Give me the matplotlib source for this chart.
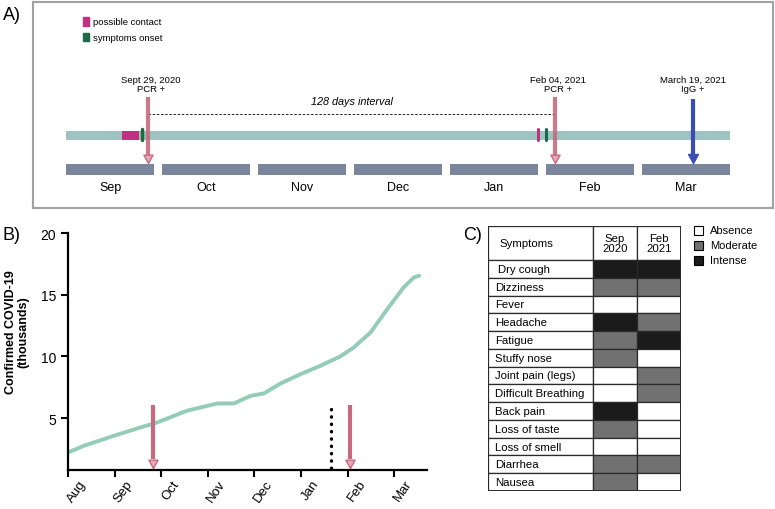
import numpy as np
import matplotlib
matplotlib.use('Agg')
import matplotlib.pyplot as plt
from matplotlib.patches import Rectangle
from matplotlib.path import Path

plt.rcParams['font.family'] = ['Liberation Sans', 'DejaVu Sans']

# --- data ---
timeline_months = ['Sep', 'Oct', 'Nov', 'Dec', 'Jan', 'Feb', 'Mar']
month_days = [30, 31, 30, 31, 31, 28, 31]
contact_1 = (('Sep', 20), ('Sep', 26))
onset_1 = ('Sep', 27)
contact_2 = ('Jan', 32)   # end of Jan
onset_2 = ('Feb', 1)
pcr_1 = ('Sep', 29)
pcr_2 = ('Feb', 4)
igg = ('Mar', 19)
interval_text = '128 days interval'

case_months = ['Aug', 'Sep', 'Oct', 'Nov', 'Dec', 'Jan', 'Feb', 'Mar']
case_x = [0.0, 0.34, 0.98, 1.55, 1.91, 2.55, 3.2, 3.56, 3.91, 4.2, 4.56,
          4.99, 5.41, 5.84, 6.13, 6.49, 6.85, 7.2, 7.42, 7.53]
case_k = [2.22, 2.76, 3.57, 4.24, 4.65, 5.6, 6.19, 6.19, 6.8, 7.0, 7.81,
          8.57, 9.24, 10.0, 10.73, 11.95, 13.84, 15.6, 16.4, 16.54]
pcr_x = [1.83, 6.05]
dotted_x = 5.64

symptoms = ['Dry cough', 'Dizziness', 'Fever', 'Headache', 'Fatigue', 'Stuffy nose',
            'Joint pain (legs)', 'Difficult Breathing', 'Back pain', 'Loss of taste',
            'Loss of smell', 'Diarrhea', 'Nausea']
# 0 absence, 1 moderate, 2 intense
sep_2020 = [2, 1, 0, 2, 1, 1, 0, 0, 2, 1, 0, 1, 1]
feb_2021 = [2, 1, 0, 1, 2, 0, 1, 1, 0, 0, 0, 1, 0]
levels = ['Absence', 'Moderate', 'Intense']
level_colors = ['white', '#717171', '#1b1b1b']

# --- colours ---
teal = '#9ec4c2'
slate = '#7b869d'
magenta = '#c2307f'
green = '#1e6a45'
pink = '#c76a80'
pink_light = '#e6a8b6'
blue = '#3a4db5'
line_green = '#93ccb7'

W, H = 775, 510
fig = plt.figure(figsize=(W / 100, H / 100), dpi=100)


def px_box(l, t, r, b):
    return [l / W, 1 - b / H, (r - l) / W, (b - t) / H]


def pos(d):
    m, day = d
    k = timeline_months.index(m)
    return k + (day - 1) / month_days[k] * 0.917


# marker whose tip sits on the data point (pointing down)
head = Path([(-0.55, 1), (0.55, 1), (0, 0), (-0.55, 1)],
            [Path.MOVETO, Path.LINETO, Path.LINETO, Path.CLOSEPOLY])

# ================= A) timeline =================
axA = fig.add_axes(px_box(33, 3, 773, 209))
axA.set_xlim(-0.344, 7.365)
axA.set_ylim(209, 3)
axA.set_xticks([])
axA.set_yticks([])
for s in axA.spines.values():
    s.set_color('#a2a2a2')
    s.set_linewidth(1.5)

end = len(timeline_months) - 1 + 0.917
axA.barh(136.5, end, left=0, height=9, color=teal)
axA.barh([170.5] * len(timeline_months), [0.917] * len(timeline_months),
         left=np.arange(len(timeline_months)), height=11, color=slate)
for k, m in enumerate(timeline_months):
    axA.text(k + 0.4585, 188, m, ha='center', va='center', fontsize=9)

c0, c1 = pos(contact_1[0]), pos(contact_1[1])
axA.barh(136.5, c1 - c0, left=c0, height=9, color=magenta)
axA.plot([pos(onset_1)] * 2, [130, 141], color=green, lw=2.5, solid_capstyle='round')
axA.plot([pos(contact_2)] * 2, [130, 141], color=magenta, lw=2.2, solid_capstyle='round')
axA.plot([pos(onset_2)] * 2, [130, 141], color=green, lw=2.2, solid_capstyle='round')

# interval
axA.plot([pos(pcr_1), pos(pcr_2)], [115, 115], color='black', lw=0.6, ls=(0, (3, 2)))
axA.text((pos(pcr_1) + pos(pcr_2)) / 2, 102, interval_text, ha='center', va='center',
         fontsize=7.8, style='italic')

for d, lab in [(pcr_1, 'Sept 29, 2020\nPCR +'), (pcr_2, 'Feb 04, 2021\nPCR +')]:
    x = pos(d)
    axA.plot([x, x], [98, 156], color=pink, lw=3, alpha=0.9, solid_capstyle='butt')
    axA.plot([x], [164], marker=head, ms=12, mfc=pink_light, mec=pink, mew=1)
    axA.text(x + 0.03, 94, lab, ha='center', va='bottom', fontsize=6.8, linespacing=1.0)

x = pos(igg)
axA.plot([x, x], [100, 155], color=blue, lw=3, solid_capstyle='butt')
axA.plot([x], [164], marker=head, ms=13, mfc=blue, mec=blue, mew=1)
axA.text(x, 94, 'March 19, 2021\nIgG +', ha='center', va='bottom', fontsize=6.8,
         linespacing=1.0)

# legend squares
axA.add_patch(Rectangle((0.068, 0.885), 0.008, 0.04, transform=axA.transAxes, color=magenta))
axA.add_patch(Rectangle((0.068, 0.81), 0.008, 0.04, transform=axA.transAxes, color=green))
axA.text(0.081, 0.905, 'possible contact', transform=axA.transAxes, va='center', fontsize=6.8)
axA.text(0.081, 0.83, 'symptoms onset', transform=axA.transAxes, va='center', fontsize=6.8)

fig.text(3 / W, 1 - 15 / H, 'A)', fontsize=13, va='center', ha='left')

# ================= B) cases =================
axB = fig.add_axes(px_box(68, 234, 427, 471))
axB.plot(case_x, case_k, color=line_green, lw=2.8, solid_capstyle='round')
for x in pcr_x:
    axB.plot([x, x], [6.05, 1.7], color=pink, lw=3, solid_capstyle='butt')
    axB.plot([x], [1.0], marker=head, ms=12, mfc=pink_light, mec=pink, mew=1)
axB.plot([dotted_x, dotted_x], [1.0, 6.0], color='black', lw=2.4,
         ls=(0, (0.1, 2.1)), dash_capstyle='round')
axB.set_xlim(0, 7.7)
axB.set_ylim(0.8, 20)
axB.set_xticks(range(len(case_months)))
axB.set_xticklabels([])
# rotated month labels sit to the right of their ticks (GraphPad style)
for k, m in enumerate(case_months):
    axB.annotate(m, xy=(k, 0), xycoords=('data', 'axes fraction'),
                 xytext=(11, -8), textcoords='offset points', rotation=55,
                 ha='right', va='center', rotation_mode='anchor', fontsize=9.5)
axB.set_yticks([5, 10, 15, 20])
axB.tick_params(axis='y', labelsize=10)
axB.tick_params(length=5, width=1.5, direction='out')
for s in ['top', 'right']:
    axB.spines[s].set_visible(False)
for s in ['left', 'bottom']:
    axB.spines[s].set_linewidth(1.6)
axB.set_ylabel('Confirmed COVID-19\n(thousands)', fontsize=9, fontweight='bold',
               va='center', linespacing=1.1)
axB.yaxis.set_label_coords(-0.142, 0.586)

fig.text(2 / W, 1 - 236 / H, 'B)', fontsize=13, va='center', ha='left')

# ================= C) symptom table =================
axC = fig.add_axes(px_box(488, 227, 681, 492))
axC.set_xlim(0, 193)
axC.set_ylim(265, 0)
axC.axis('off')
head_h = 34
row_h = (265 - head_h) / len(symptoms)
ec = '#2a2a2a'

axC.add_patch(Rectangle((0, 0), 105, head_h, fc='white', ec=ec, lw=0.9))
axC.add_patch(Rectangle((105, 0), 44, head_h, fc='white', ec=ec, lw=0.9))
axC.add_patch(Rectangle((149, 0), 44, head_h, fc='white', ec=ec, lw=0.9))
axC.text(11, head_h / 2, 'Symptoms', va='center', fontsize=8.2)
axC.text(127, head_h / 2, 'Sep\n2020', ha='center', va='center', fontsize=8.2, linespacing=1.0)
axC.text(171, head_h / 2, 'Feb\n2021', ha='center', va='center', fontsize=8.2, linespacing=1.0)

for i, name in enumerate(symptoms):
    y0 = head_h + i * row_h
    axC.add_patch(Rectangle((0, y0), 105, row_h, fc='white', ec=ec, lw=0.9))
    axC.add_patch(Rectangle((105, y0), 44, row_h, fc=level_colors[sep_2020[i]], ec=ec, lw=0.9))
    axC.add_patch(Rectangle((149, y0), 44, row_h, fc=level_colors[feb_2021[i]], ec=ec, lw=0.9))
    pad = 10 if i == 0 else 7
    axC.text(pad, y0 + row_h / 2, name, va='center', fontsize=8.2)
axC.add_patch(Rectangle((0, 0), 193, 265, fc='none', ec=ec, lw=1.4))

# legend
for j, lev in enumerate(levels):
    yc = 231 + j * 15
    fig.add_artist(Rectangle((694 / W, 1 - (yc + 4.5) / H), 9 / W, 9 / H,
                             fc=level_colors[j], ec='black', lw=0.8))
    fig.text(710 / W, 1 - yc / H, lev, va='center', fontsize=8)

fig.text(463 / W, 1 - 236 / H, 'C)', fontsize=13, va='center', ha='left')

fig.savefig('out.png', dpi=100)
